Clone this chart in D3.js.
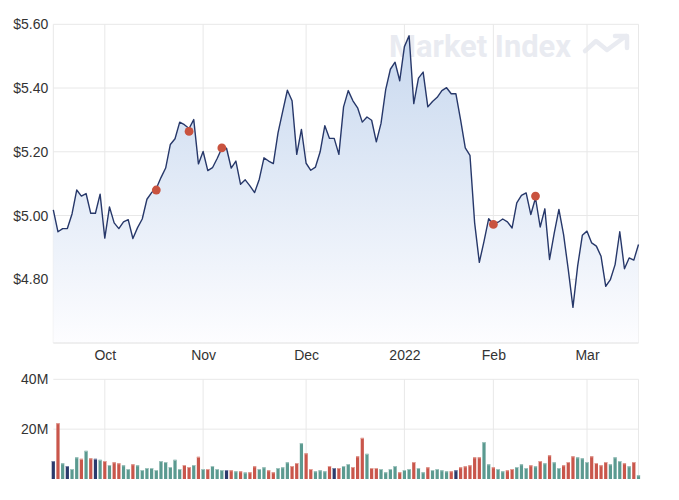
<!DOCTYPE html>
<meta charset="utf-8">
<title>Share price and volume</title>
<script src="https://d3js.org/d3.v7.min.js"></script>
<style>
  body { margin: 0; background: #fff; }
  text { font-family: "Liberation Sans", Arial, sans-serif; }
</style>
<body>
<script>

var w = 679
var h = 500

// trading day index of each month label (ordinal axis, one slot per trading day)
var monthTicks = [11, 32, 54, 75, 94, 114];
var monthLabels = ["Oct", "Nov", "Dec", "2022", "Feb", "Mar"];

var priceTicks = [4.8, 5.0, 5.2, 5.4, 5.6];
var volumeTicks = [20, 40];

// daily closes, 16 Sep 2021 -> 16 Mar 2022
var closes = [
  5.018, 4.949, 4.959, 4.959, 5.005, 5.080, 5.061, 5.069, 5.007, 5.007,
  5.067, 4.929, 5.027, 4.977, 4.959, 4.980, 4.987, 4.928, 4.962, 4.989,
  5.051, 5.072, 5.085, 5.119, 5.149, 5.223, 5.241, 5.293, 5.285, 5.273,
  5.301, 5.162, 5.201, 5.141, 5.150, 5.179, 5.211, 5.211, 5.149, 5.171,
  5.098, 5.112, 5.093, 5.072, 5.114, 5.181, 5.171, 5.163, 5.259, 5.327,
  5.393, 5.360, 5.192, 5.270, 5.164, 5.142, 5.152, 5.200, 5.282, 5.242,
  5.242, 5.192, 5.341, 5.392, 5.360, 5.338, 5.293, 5.309, 5.299, 5.231,
  5.289, 5.395, 5.459, 5.481, 5.423, 5.530, 5.564, 5.351, 5.431, 5.450,
  5.341, 5.358, 5.371, 5.392, 5.401, 5.382, 5.382, 5.300, 5.212, 5.189,
  4.977, 4.853, 4.919, 4.990, 4.972, 4.979, 4.989, 4.980, 4.961, 5.040,
  5.063, 5.071, 5.003, 5.055, 4.964, 5.021, 4.862, 4.945, 5.019, 4.940,
  4.830, 4.712, 4.841, 4.938, 4.951, 4.914, 4.904, 4.872, 4.778, 4.799,
  4.846, 4.949, 4.833, 4.867, 4.860, 4.909
];

// daily volume, millions of shares
var volumes = [
  7.2, 22.4, 6.3, 5.2, 4.0, 8.7, 8.1, 11.3, 8.3, 8.1,
  7.7, 7.2, 5.6, 6.7, 6.3, 5.5, 4.0, 5.9, 5.5, 3.6,
  4.4, 4.4, 3.6, 7.2, 6.8, 4.8, 7.7, 4.0, 5.6, 4.8,
  5.6, 8.9, 4.0, 4.0, 5.2, 4.0, 3.6, 3.6, 3.5, 3.1,
  3.1, 2.6, 2.7, 5.1, 4.0, 4.7, 3.5, 2.7, 4.4, 4.7,
  6.7, 5.2, 6.4, 14.4, 10.3, 4.0, 3.1, 3.5, 3.1, 5.2,
  4.4, 4.4, 5.2, 6.0, 4.8, 9.1, 16.5, 10.1, 4.4, 4.4,
  4.0, 2.7, 4.0, 5.2, 2.7, 3.6, 4.0, 6.8, 4.4, 2.7,
  4.7, 3.6, 4.0, 3.5, 3.1, 3.1, 3.5, 4.7, 5.1, 5.5,
  8.7, 8.7, 14.8, 5.9, 4.7, 4.0, 3.1, 3.5, 4.0, 4.8,
  5.9, 4.4, 5.5, 5.1, 7.2, 6.3, 9.5, 6.7, 4.4, 5.5,
  6.8, 9.1, 8.7, 8.3, 6.8, 9.1, 6.4, 5.5, 6.8, 5.9,
  8.7, 7.2, 6.3, 5.1, 6.8, 1.5
];

// event markers (trading day index, price)
var markerIdx = [22, 29, 36, 94, 103];
var markerVals = [5.080, 5.264, 5.212, 4.972, 5.061];

var svg = d3.select("body")
  .append("svg")
  .attr("width", w)
  .attr("height", h);

var left = 53.3, right = 638.5;

var x = d3.scaleLinear().domain([0, closes.length - 1]).range([left, right]);
var y = d3.scaleLinear().domain([4.6, 5.6]).range([343, 24.3]);
var yv = d3.scaleLinear().domain([0, 40]).range([479, 379.3]);

var grid = "#e8e8e8";
var labelColor = "#333";

// gradient for area
var defs = svg.append("defs");
var grad = defs.append("linearGradient")
  .attr("id", "areaGrad")
  .attr("gradientUnits", "userSpaceOnUse")
  .attr("x1", 0).attr("y1", y(5.6))
  .attr("x2", 0).attr("y2", y(4.6));
grad.append("stop").attr("offset", "0%").attr("stop-color", "#c6d7ee");
grad.append("stop").attr("offset", "100%").attr("stop-color", "#fdfdff");

// watermark
var wm = svg.append("g").attr("fill", "none");
wm.append("text")
  .attr("x", 389).attr("y", 57)
  .attr("textLength", 182)
  .attr("lengthAdjust", "spacingAndGlyphs")
  .style("font-family", "Roboto, 'Open Sans', sans-serif")
  .style("font-weight", "bold")
  .style("font-size", "31px")
  .attr("fill", "#e9ebf1")
  .text("Market Index");
wm.append("path")
  .attr("d", "M585,51 L596,41 L607,50 L626,36 M615,36 L627,36 L627,48")
  .attr("stroke", "#e9ebf1")
  .attr("stroke-width", 4.5)
  .attr("stroke-linecap", "round")
  .attr("stroke-linejoin", "round");

// price gridlines
svg.append("g")
  .selectAll("line")
  .data(priceTicks)
  .enter()
  .append("line")
    .attr("x1", left).attr("x2", right)
    .attr("y1", function(d) { return y(d); })
    .attr("y2", function(d) { return y(d); })
    .attr("stroke", grid);

svg.append("g")
  .selectAll("line")
  .data(monthTicks)
  .enter()
  .append("line")
    .attr("x1", function(d) { return x(d); })
    .attr("x2", function(d) { return x(d); })
    .attr("y1", y(5.6)).attr("y2", y(4.6))
    .attr("stroke", grid);

// panel edges
svg.append("line").attr("x1", left).attr("x2", left).attr("y1", y(5.6)).attr("y2", y(4.6)).attr("stroke", grid);
svg.append("line").attr("x1", right).attr("x2", right).attr("y1", y(5.6)).attr("y2", y(4.6)).attr("stroke", grid);

// area + line
var area = d3.area()
  .x(function(d, i) { return x(i); })
  .y0(y(4.6))
  .y1(function(d) { return y(d); });

var line = d3.line()
  .x(function(d, i) { return x(i); })
  .y(function(d) { return y(d); });

svg.append("path")
  .datum(closes)
  .attr("d", area)
  .attr("fill", "url(#areaGrad)");

svg.append("line").attr("x1", left).attr("x2", right).attr("y1", y(4.6)).attr("y2", y(4.6)).attr("stroke", "#e0e0e0");

svg.append("path")
  .datum(closes)
  .attr("d", line)
  .attr("fill", "none")
  .attr("stroke", "#27386a")
  .attr("stroke-width", 1.4)
  .attr("stroke-linejoin", "round");

svg.append("g")
  .selectAll("circle")
  .data(markerIdx)
  .enter()
  .append("circle")
    .attr("cx", function(d) { return x(d); })
    .attr("cy", function(d, i) { return y(markerVals[i]); })
    .attr("r", 4.4)
    .attr("fill", "#c9533f");

// price axis labels
var yAxis = d3.axisLeft(y)
  .tickValues(priceTicks)
  .tickSize(0)
  .tickPadding(5)
  .tickFormat(function(d) { return "$" + d.toFixed(2); });

svg.append("g")
  .attr("transform", "translate(" + left + ",0)")
  .call(yAxis)
  .call(function(g) { g.select(".domain").remove(); })
  .selectAll("text")
    .style("font-family", "'Liberation Sans', Arial, sans-serif")
    .style("font-size", "14px")
    .attr("fill", labelColor);

// month labels
var xAxis = d3.axisBottom(x)
  .tickValues(monthTicks)
  .tickSize(0)
  .tickPadding(5)
  .tickFormat(function(d, i) { return monthLabels[i]; });

svg.append("g")
  .attr("transform", "translate(0," + (y(4.6) + 2) + ")")
  .call(xAxis)
  .call(function(g) { g.select(".domain").remove(); })
  .selectAll("text")
    .style("font-family", "'Liberation Sans', Arial, sans-serif")
    .style("font-size", "14px")
    .attr("fill", labelColor);

// volume panel gridlines
svg.append("g")
  .selectAll("line")
  .data(volumeTicks)
  .enter()
  .append("line")
    .attr("x1", left).attr("x2", right)
    .attr("y1", function(d) { return yv(d); })
    .attr("y2", function(d) { return yv(d); })
    .attr("stroke", grid);

svg.append("g")
  .selectAll("line")
  .data(monthTicks)
  .enter()
  .append("line")
    .attr("x1", function(d) { return x(d); })
    .attr("x2", function(d) { return x(d); })
    .attr("y1", yv(40)).attr("y2", yv(0))
    .attr("stroke", grid);

svg.append("line").attr("x1", right).attr("x2", right).attr("y1", yv(40)).attr("y2", yv(0)).attr("stroke", grid);

// bar colour from the day's move
function dir(i) {
  if (i === 0) return 0;
  if (closes[i] > closes[i - 1]) return 1;
  if (closes[i] < closes[i - 1]) return -1;
  return 0;
}
var barFill = { "1": "#5b9a90", "-1": "#c9564b", "0": "#2b3a6c" };
var capFill = { "1": "#a3c6c0", "-1": "#e2a198", "0": "#7a86a8" };

var bw = 3.2;
var bars = svg.append("g");
bars.selectAll("rect.bar")
  .data(volumes)
  .enter()
  .append("rect")
    .attr("class", "bar")
    .attr("x", function(d, i) { return x(i) - bw / 2; })
    .attr("y", function(d) { return yv(d); })
    .attr("width", bw)
    .attr("height", function(d) { return yv(0) - yv(d); })
    .attr("fill", function(d, i) { return barFill[dir(i)]; });

bars.selectAll("rect.cap")
  .data(volumes)
  .enter()
  .append("rect")
    .attr("class", "cap")
    .attr("x", function(d, i) { return x(i) - bw / 2; })
    .attr("y", function(d) { return yv(d); })
    .attr("width", bw)
    .attr("height", 1)
    .attr("fill", function(d, i) { return capFill[dir(i)]; });

var vAxis = d3.axisLeft(yv)
  .tickValues(volumeTicks)
  .tickSize(0)
  .tickPadding(5)
  .tickFormat(function(d) { return d + "M"; });

svg.append("g")
  .attr("transform", "translate(" + left + ",0)")
  .call(vAxis)
  .call(function(g) { g.select(".domain").remove(); })
  .selectAll("text")
    .style("font-family", "'Liberation Sans', Arial, sans-serif")
    .style("font-size", "14px")
    .attr("fill", labelColor);

</script>
</body>
